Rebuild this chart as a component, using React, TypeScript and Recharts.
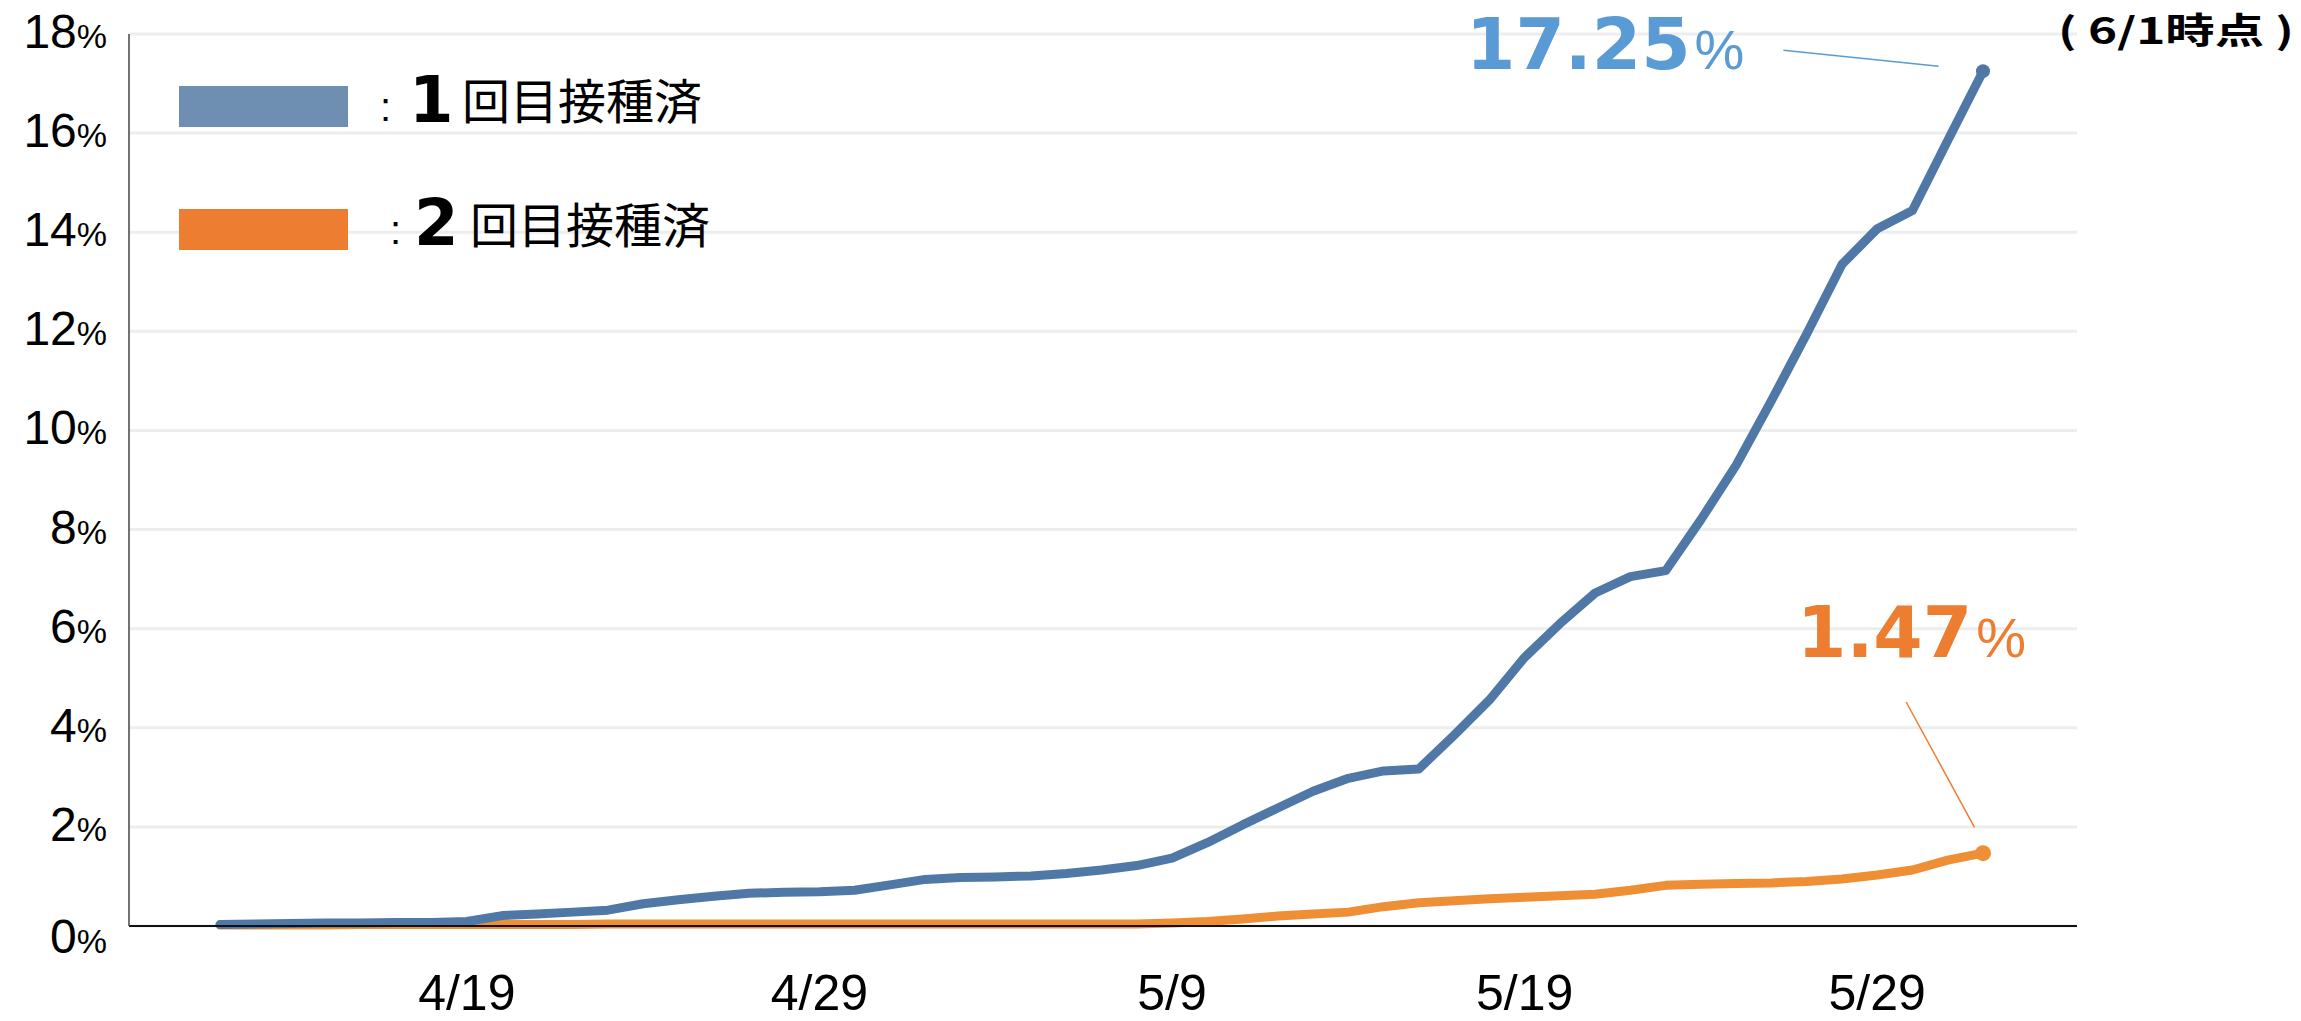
import React from "react";
import {
  LineChart,
  Line,
  XAxis,
  YAxis,
  CartesianGrid,
  ReferenceLine,
} from "recharts";

const BLUE = "#4F78A7";
const BLUE_KEY = "#6E8EB2";
const BLUE_TEXT = "#5B9BD5";
const ORANGE = "#EE8F35";
const ORANGE_KEY = "#ED7D31";
const GRID = "#EDEDED";

const W = 2301;
const H = 1021;

// daily, 4/12 .. 6/1
const DATES = [
  "4/12", "4/13", "4/14", "4/15", "4/16", "4/17", "4/18", "4/19", "4/20", "4/21",
  "4/22", "4/23", "4/24", "4/25", "4/26", "4/27", "4/28", "4/29", "4/30", "5/1",
  "5/2", "5/3", "5/4", "5/5", "5/6", "5/7", "5/8", "5/9", "5/10", "5/11",
  "5/12", "5/13", "5/14", "5/15", "5/16", "5/17", "5/18", "5/19", "5/20", "5/21",
  "5/22", "5/23", "5/24", "5/25", "5/26", "5/27", "5/28", "5/29", "5/30", "5/31",
  "6/1",
];

// 1回目接種済 (%)
const FIRST = [
  0.03, 0.04, 0.05, 0.06, 0.06, 0.07, 0.07, 0.09, 0.21, 0.24,
  0.28, 0.32, 0.45, 0.53, 0.6, 0.66, 0.68, 0.69, 0.72, 0.83,
  0.94, 0.98, 0.99, 1.01, 1.06, 1.13, 1.22, 1.37, 1.68, 2.04,
  2.38, 2.72, 2.98, 3.13, 3.17, 3.85, 4.56, 5.42, 6.1, 6.72,
  7.05, 7.17, 8.2, 9.3, 10.6, 11.95, 13.35, 14.07, 14.44, 15.85,
  17.25,
];

// 2回目接種済 (%)
const SECOND = [
  0.02, 0.02, 0.02, 0.02, 0.03, 0.03, 0.03, 0.03, 0.03, 0.03,
  0.03, 0.04, 0.04, 0.04, 0.04, 0.04, 0.04, 0.04, 0.04, 0.04,
  0.04, 0.04, 0.04, 0.04, 0.04, 0.04, 0.04, 0.06, 0.09, 0.14,
  0.2, 0.24, 0.28, 0.39, 0.47, 0.51, 0.55, 0.58, 0.61, 0.64,
  0.72, 0.82, 0.84, 0.86, 0.87, 0.9, 0.95, 1.03, 1.13, 1.33,
  1.47,
];

const TICK_LABELS = ["4/19", "4/29", "5/9", "5/19", "5/29"];
const Y_TICKS = [0, 2, 4, 6, 8, 10, 12, 14, 16, 18];

const data = DATES.map((d, i) => ({
  idx: i,
  date: d,
  first: FIRST[i],
  second: SECOND[i],
}));
const LAST = DATES.length - 1;

const NUM_FONT = "'Liberation Sans', Arial, sans-serif";
const BOLD_FONT = "'DejaVu Sans', Verdana, sans-serif";
const JP_FONT = "'Noto Sans CJK JP', sans-serif";

function YTick({ x, y, payload }: any) {
  const off = payload.value === 0 ? 27 : 14;
  return (
    <text x={x - 22} y={y + off} textAnchor="end" fontFamily={NUM_FONT} fill="#000">
      <tspan fontSize={48}>{payload.value}</tspan>
      <tspan fontSize={34}>%</tspan>
    </text>
  );
}

function XTick({ x, y, payload }: any) {
  return (
    <text x={x} y={y + 84} textAnchor="middle" fontFamily={NUM_FONT} fontSize={50} fill="#000">
      {DATES[payload.value]}
    </text>
  );
}

const endDot = (color: string, r: number) => (p: any) =>
  p.index === LAST ? (
    <circle key={`d-${p.index}`} cx={p.cx} cy={p.cy} r={r} fill={color} />
  ) : (
    <g key={`d-${p.index}`} />
  );

// big end-value callout: bold number + thin percent sign
function Callout({ x, y, value, color }: { x: number; y: number; value: string; color: string }) {
  return (
    <text x={x} y={y} fill={color}>
      <tspan fontFamily={BOLD_FONT} fontWeight="bold" fontSize={71}>{value}</tspan>
      <tspan fontFamily={NUM_FONT} fontSize={56} dx={4}>%</tspan>
    </text>
  );
}

export default function App() {
  return (
    <div style={{ position: "absolute", left: 0, top: 0, width: W, height: H, background: "#fff" }}>
      <LineChart
        width={W}
        height={H}
        data={data}
        margin={{ top: 34, right: 224, bottom: 0, left: 0 }}
      >
        <CartesianGrid stroke={GRID} strokeWidth={3} vertical={false} />
        <XAxis
          dataKey="idx"
          type="number"
          domain={[0, LAST]}
          padding={{ left: 91, right: 94 }}
          ticks={TICK_LABELS.map((l) => DATES.indexOf(l))}
          tick={<XTick />}
          tickLine={false}
          tickSize={0}
          tickMargin={0}
          height={95}
          axisLine={{ stroke: "#111", strokeWidth: 2 }}
        />
        <YAxis
          type="number"
          domain={[0, 18]}
          ticks={Y_TICKS}
          tick={<YTick />}
          tickLine={false}
          tickSize={0}
          tickMargin={0}
          width={129}
          axisLine={{ stroke: "#444", strokeWidth: 1.5 }}
        />
        <ReferenceLine y={0} stroke="#bbb" strokeDasharray="3 3" />
        <Line
          type="linear"
          dataKey="second"
          stroke={ORANGE}
          strokeWidth={9}
          strokeLinejoin="round"
          strokeLinecap="round"
          dot={endDot(ORANGE, 8)}
          activeDot={false}
          isAnimationActive={false}
        />
        <Line
          type="linear"
          dataKey="first"
          stroke={BLUE}
          strokeWidth={9}
          strokeLinejoin="round"
          strokeLinecap="round"
          dot={endDot(BLUE, 7)}
          activeDot={false}
          isAnimationActive={false}
        />
        {/* leader lines for the end labels */}
        <ReferenceLine
          segment={[{ x: 44.34, y: 17.67 }, { x: 48.74, y: 17.35 }]}
          stroke={BLUE_TEXT}
          strokeWidth={1.5}
          ifOverflow="visible"
        />
        <ReferenceLine
          segment={[{ x: 47.82, y: 4.52 }, { x: 49.76, y: 1.99 }]}
          stroke={ORANGE_KEY}
          strokeWidth={1.5}
          ifOverflow="visible"
        />
      </LineChart>

      {/* legend + annotations */}
      <svg
        width={W}
        height={H}
        style={{ position: "absolute", left: 0, top: 0, pointerEvents: "none" }}
      >
        <rect x={179} y={86} width={169} height={41} fill={BLUE_KEY} />
        <text x={380} y={121} fontFamily={NUM_FONT} fontSize={40}>:</text>
        <text x={409} y={122} fontFamily={BOLD_FONT} fontWeight="bold" fontSize={64}>1</text>
        <text x={462} y={119} fontFamily={JP_FONT} fontSize={48}>回目接種済</text>

        <rect x={179} y={209} width={169} height={41} fill={ORANGE_KEY} />
        <text x={390} y={244} fontFamily={NUM_FONT} fontSize={40}>:</text>
        <text x={414} y={245} fontFamily={BOLD_FONT} fontWeight="bold" fontSize={64}>2</text>
        <text x={470} y={243} fontFamily={JP_FONT} fontSize={48}>回目接種済</text>

        <Callout x={1466} y={69} value="17.25" color={BLUE_TEXT} />
        <Callout x={1797} y={657} value="1.47" color={ORANGE_KEY} />

        <text x={2058} y={44} fontFamily={JP_FONT} fontWeight="bold" fontSize={36} fill="#000"
          textLength={236} lengthAdjust="spacingAndGlyphs">( 6/1時点 )</text>
      </svg>
    </div>
  );
}
